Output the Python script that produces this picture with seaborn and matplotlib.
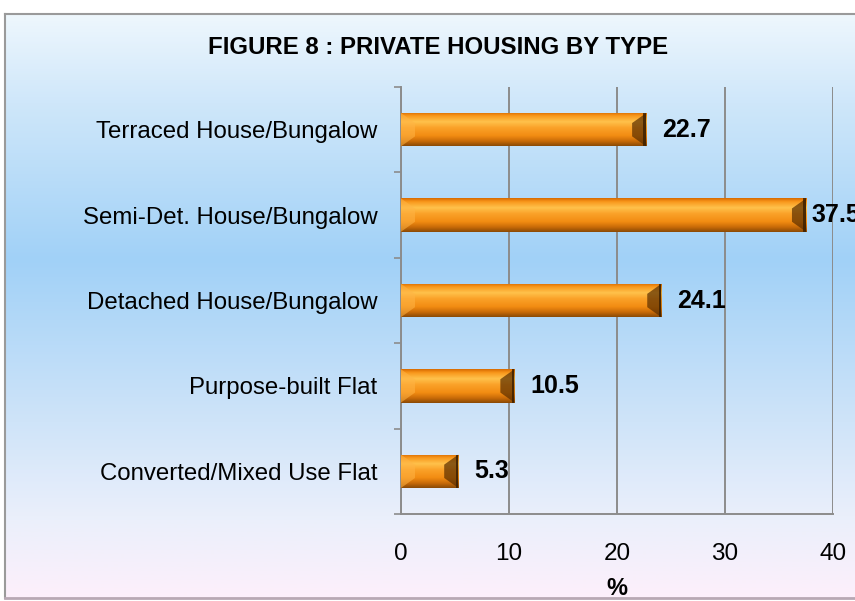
import numpy as np
import matplotlib
matplotlib.use('Agg')
import matplotlib.pyplot as plt
import seaborn as sns
from matplotlib.colors import LinearSegmentedColormap
from matplotlib.patches import Polygon

# データ
categories = ['Terraced House/Bungalow', 'Semi-Det. House/Bungalow',
              'Detached House/Bungalow', 'Purpose-built Flat',
              'Converted/Mixed Use Flat']
values = [22.7, 37.5, 24.1, 10.5, 5.3]
x_ticks = [0, 10, 20, 30, 40]
title = 'FIGURE 8 : PRIVATE HOUSING BY TYPE'
x_label = '%'

sns.set_style('white')
plt.rcParams['font.family'] = ['Liberation Sans', 'DejaVu Sans']
plt.rcParams['text.color'] = 'black'
plt.rcParams['xtick.color'] = 'black'
plt.rcParams['ytick.color'] = 'black'
plt.rcParams['axes.labelcolor'] = 'black'

W, H = 855, 601
fig = plt.figure(figsize=(W / 100, H / 100), dpi=100)
fig.patch.set_facecolor('white')

# 背景のグラデーション枠
bg = fig.add_axes([5 / W, 3 / H, 1 - 5 / W, (H - 17) / H], zorder=0)
bg_cmap = LinearSegmentedColormap.from_list('bg', [
    (0.0, '#eef7fd'), (0.15, '#cfe7fa'), (0.42, '#a1d1f7'),
    (0.7, '#cfe4f9'), (0.86, '#eaeffb'), (1.0, '#fdf0fb')])
bg.imshow(np.linspace(0, 1, 256).reshape(-1, 1), cmap=bg_cmap,
          aspect='auto', extent=(0, 1, 0, 1))
bg.set_xlim(0, 1)
bg.set_ylim(0, 1)
bg.set_xticks([])
bg.set_yticks([])
for side in ['top', 'left']:
    bg.spines[side].set_color('#9a9a9a')
    bg.spines[side].set_linewidth(1.5)
bg.spines['bottom'].set_color('#b8a8b4')
bg.spines['bottom'].set_linewidth(2)
bg.spines['right'].set_visible(False)

# メインの軸
ax = fig.add_axes([401 / W, 87 / H, 432 / W, 427 / H], zorder=1)
ax.patch.set_alpha(0)

sns.barplot(x=values, y=categories, orient='h', width=0.39,
            color='#f7941d', ax=ax, zorder=3)

# バーの立体的なグラデーション
bar_cmap = LinearSegmentedColormap.from_list('bar', [
    (0.0, '#d86a00'), (0.1, '#f8961a'), (0.28, '#ffc24c'),
    (0.45, '#fba32a'), (0.7, '#f28c12'), (0.86, '#c86a08'),
    (1.0, '#8a4a06')])
grad = np.linspace(0, 1, 128).reshape(-1, 1)
d = 1.3
for p in ax.patches:
    x0, y0 = p.get_x(), p.get_y()
    w, h = p.get_width(), p.get_height()
    p.set_facecolor('none')
    p.set_edgecolor('none')
    im = ax.imshow(grad, cmap=bar_cmap, aspect='auto', zorder=3,
                   extent=(x0, x0 + w, y0 + h, y0))
    im.set_clip_path(p)
    b = h * 0.3
    ax.add_patch(Polygon([(x0 + w - d, y0 + b), (x0 + w, y0), (x0 + w, y0 + h),
                          (x0 + w - d, y0 + h - b)], closed=True,
                         facecolor='#5a2e00', alpha=0.7, edgecolor='none', zorder=4))
    ax.add_patch(Polygon([(x0 + w - 0.25, y0), (x0 + w, y0), (x0 + w, y0 + h),
                          (x0 + w - 0.25, y0 + h)], closed=True,
                         facecolor='#3a1e00', alpha=0.8, edgecolor='none', zorder=4))
    ax.add_patch(Polygon([(x0, y0), (x0 + d, y0 + b), (x0 + d, y0 + h - b),
                          (x0, y0 + h)], closed=True,
                         facecolor='#ffb445', alpha=0.55, edgecolor='none', zorder=4))

# 数値ラベル
for i, v in enumerate(values):
    gap = 1.5 if v < 35 else 0.55
    ax.text(v + gap, i, f'{v}', va='center', ha='left', fontsize=18,
            fontweight='bold', color='black', zorder=5, clip_on=False)

ax.set_xlim(0, 40)
ax.set_ylim(len(categories) - 0.5, -0.5)
ax.set_xticks(x_ticks)
ax.set_yticks(np.arange(-0.5, len(categories), 1), minor=True)
ax.grid(axis='x', color='#8c8c8c', linewidth=1.4, zorder=1)
ax.grid(axis='y', visible=False)
ax.set_axisbelow(True)

for side in ['top', 'right']:
    ax.spines[side].set_visible(False)
for side in ['left', 'bottom']:
    ax.spines[side].set_color('#8c8c8c')
    ax.spines[side].set_linewidth(1.4)

ax.tick_params(axis='x', which='major', direction='out', length=5, width=1.2,
               color='#8c8c8c', labelcolor='black', pad=16, labelsize=17.5)
ax.tick_params(axis='y', which='major', length=0, pad=17, labelsize=17.3,
               labelcolor='black')
ax.tick_params(axis='y', which='minor', direction='out', length=5, width=1.2,
               color='#8c8c8c', left=True)

ax.set_ylabel('')
ax.set_xlabel(x_label, fontsize=17, fontweight='bold', color='black')
ax.xaxis.set_label_coords(0.5, -0.148)

fig.text(438 / W, 1 - 47 / H, title, ha='center', va='center',
         fontsize=17.3, fontweight='bold', color='black')

fig.savefig('out.png', dpi=100)
